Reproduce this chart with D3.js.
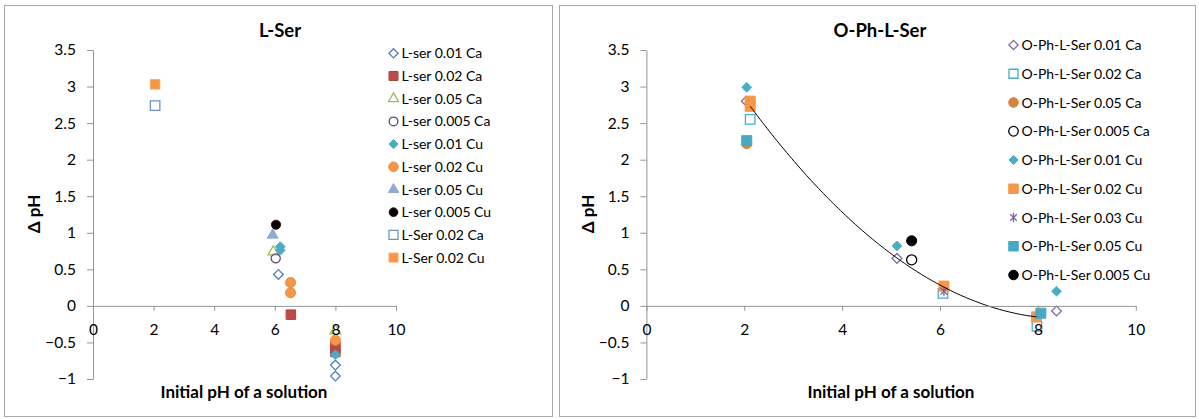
<!DOCTYPE html>
<html>
<head>
<meta charset="utf-8">
<script src="https://cdn.jsdelivr.net/npm/d3@7/dist/d3.min.js"></script>
<style>
  html, body { margin: 0; padding: 0; background: #fff; }
  svg { display: block; font-family: Lato, "Open Sans", sans-serif; }
</style>
</head>
<body>
<svg id="chart" width="1199" height="419"></svg>
<script>
// ---------- DATA ----------
const xTicks = [0, 2, 4, 6, 8, 10];
const yTicks = [-1, -0.5, 0, 0.5, 1, 1.5, 2, 2.5, 3, 3.5];

// Left chart: L-Ser  ([initial pH, delta pH])
const leftTitle = "L-Ser";
const leftNames = ["L-ser 0.01 Ca", "L-ser 0.02 Ca", "L-ser 0.05 Ca", "L-ser 0.005 Ca",
  "L-ser 0.01 Cu", "L-ser 0.02 Cu", "L-ser 0.05 Cu", "L-ser 0.005 Cu", "L-Ser 0.02 Ca", "L-Ser 0.02 Cu"];
const lSer001Ca  = [[6.12, 0.43], [8, -0.81], [8, -0.96]];
const lSer002Ca  = [[6.53, -0.12], [8, -0.56], [8, -0.63]];
const lSer005Ca  = [[5.95, 0.74], [8, -0.34]];
const lSer0005Ca = [[6.03, 0.65]];
const lSer001Cu  = [[6.18, 0.81], [6.18, 0.76], [8, -0.67]];
const lSer002Cu  = [[6.52, 0.32], [6.52, 0.18], [8, -0.47]];
const lSer005Cu  = [[5.93, 0.97]];
const lSer0005Cu = [[6.04, 1.11]];
const lSerB002Ca = [[2.05, 2.74]];
const lSerB002Cu = [[2.05, 3.03]];

// Right chart: O-Ph-L-Ser
const rightTitle = "O-Ph-L-Ser";
const rightNames = ["O-Ph-L-Ser 0.01 Ca", "O-Ph-L-Ser 0.02 Ca", "O-Ph-L-Ser 0.05 Ca", "O-Ph-L-Ser 0.005 Ca",
  "O-Ph-L-Ser 0.01 Cu", "O-Ph-L-Ser 0.02 Cu", "O-Ph-L-Ser 0.03 Cu", "O-Ph-L-Ser 0.05 Cu", "O-Ph-L-Ser 0.005 Cu"];
const oph001Ca  = [[2.04, 2.8], [5.12, 0.65], [8.38, -0.07]];
const oph002Ca  = [[2.12, 2.55], [6.06, 0.17], [7.98, -0.28]];
const oph005Ca  = [[2.05, 2.22]];
const oph0005Ca = [[5.42, 0.63]];
const oph001Cu  = [[2.05, 2.99], [5.12, 0.82], [8.38, 0.2]];
const oph002Cu  = [[2.12, 2.8], [2.12, 2.73], [6.08, 0.27], [7.97, -0.15]];
const oph003Cu  = [[6.08, 0.2]];
const oph005Cu  = [[2.05, 2.26], [8.06, -0.1]];
const oph0005Cu = [[5.42, 0.89]];

// Polynomial (order 2) trendline on right chart: y = c0 + c1*x + c2*x^2
const trendCoef = [4.96, -1.1997, 0.07007];
const trendRange = [2.12, 8.0];

// ---------- STYLES ----------
const asterisk = {
  draw(ctx, size) {
    const r = Math.sqrt(size) * 0.55;
    const d = r * 0.7071;
    ctx.moveTo(0, -r); ctx.lineTo(0, r);
    ctx.moveTo(-d, -d); ctx.lineTo(d, d);
    ctx.moveTo(-d, d); ctx.lineTo(d, -d);
  }
};
const leftStyles = [
  { shape: d3.symbolDiamond2, size: 60, fill: "none", stroke: "#4f81bd" },
  { shape: d3.symbolSquare, size: 90, fill: "#be4b48", stroke: "#b04440" },
  { shape: d3.symbolTriangle, size: 48, fill: "none", stroke: "#9bbb59" },
  { shape: d3.symbolCircle, size: 66, fill: "none", stroke: "#604a7b" },
  { shape: d3.symbolDiamond2, size: 60, fill: "#4bacc6", stroke: "#4bacc6" },
  { shape: d3.symbolCircle, size: 80, fill: "#f79646", stroke: "#f08a3a" },
  { shape: d3.symbolTriangle, size: 52, fill: "#8eabd6", stroke: "#8eabd6" },
  { shape: d3.symbolCircle, size: 66, fill: "#000", stroke: "#3a0a0a" },
  { shape: d3.symbolSquare, size: 90, fill: "none", stroke: "#6d93c8" },
  { shape: d3.symbolSquare, size: 90, fill: "#f79646", stroke: "#f6a868" }
];
const rightStyles = [
  { shape: d3.symbolDiamond2, size: 60, fill: "none", stroke: "#7d68a6" },
  { shape: d3.symbolSquare, size: 90, fill: "none", stroke: "#4bacc6" },
  { shape: d3.symbolCircle, size: 80, fill: "#d4843e", stroke: "#d4843e" },
  { shape: d3.symbolCircle, size: 80, fill: "none", stroke: "#000" },
  { shape: d3.symbolDiamond2, size: 60, fill: "#4bacc6", stroke: "#4bacc6" },
  { shape: d3.symbolSquare, size: 100, fill: "#f79646", stroke: "#f79646" },
  { shape: asterisk, size: 80, fill: "none", stroke: "#8064a2" },
  { shape: d3.symbolSquare, size: 100, fill: "#46a8c4", stroke: "#46a8c4" },
  { shape: d3.symbolCircle, size: 80, fill: "#000", stroke: "#000" }
];

const leftSeries = [lSer001Ca, lSer002Ca, lSer005Ca, lSer0005Ca, lSer001Cu, lSer002Cu, lSer005Cu, lSer0005Cu, lSerB002Ca, lSerB002Cu]
  .map((pts, i) => ({ name: leftNames[i], points: pts, style: leftStyles[i] }));
const rightSeries = [oph001Ca, oph002Ca, oph005Ca, oph0005Ca, oph001Cu, oph002Cu, oph003Cu, oph005Cu, oph0005Cu]
  .map((pts, i) => ({ name: rightNames[i], points: pts, style: rightStyles[i] }));

// ---------- DRAW ----------
const svg = d3.select("#chart");
const axisColor = "#959595";

function panel(cfg) {
  const g = svg.append("g");
  g.append("rect").attr("x", cfg.frame[0] + 0.5).attr("y", cfg.frame[1] + 0.5)
    .attr("width", cfg.frame[2]).attr("height", cfg.frame[3])
    .attr("fill", "#fff").attr("stroke", "#a8a8a8");

  const x = d3.scaleLinear().domain([0, 10]).range(cfg.xRange);
  const y = d3.scaleLinear().domain([-1, 3.5]).range([379, 50]);

  // markers
  cfg.series.forEach(s => {
    const sym = d3.symbol().type(s.style.shape).size(s.style.size);
    g.append("g").selectAll("path").data(s.points).join("path")
      .attr("transform", d => `translate(${x(d[0])},${y(d[1])})`)
      .attr("d", sym)
      .attr("fill", s.style.fill)
      .attr("stroke", s.style.stroke)
      .attr("stroke-width", s.style.fill === "none" ? 1.3 : 1);
  });

  if (cfg.trend) {
    const xs = d3.range(cfg.trend.range[0], cfg.trend.range[1] + 1e-9, 0.05);
    const c = cfg.trend.coef;
    g.append("path")
      .datum(xs.map(v => [v, c[0] + c[1] * v + c[2] * v * v]))
      .attr("d", d3.line().x(d => x(d[0])).y(d => y(d[1])).curve(d3.curveBasis))
      .attr("fill", "none").attr("stroke", "#000").attr("stroke-width", 1);
  }

  const yAxis = g.append("g").attr("transform", `translate(${x(0)},0)`)
    .call(d3.axisLeft(y).tickValues(yTicks).tickSize(6).tickSizeOuter(0).tickPadding(11)
      .tickFormat(d3.format("")));
  const xAxis = g.append("g").attr("transform", `translate(0,${y(0)})`)
    .call(d3.axisBottom(x).tickValues(xTicks).tickSize(5).tickSizeOuter(0).tickPadding(13));
  [xAxis, yAxis].forEach(a => {
    a.select(".domain").attr("stroke", axisColor);
    a.selectAll(".tick line").attr("stroke", axisColor);
    a.selectAll(".tick text").attr("fill", "#000").style("font-size", "15.5px").style("font-family", "Lato");
  });

  // titles
  g.append("text").attr("x", cfg.titleX).attr("y", 37).attr("text-anchor", "middle")
    .style("font-size", "18.5px").style("font-weight", "bold").text(cfg.title);
  g.append("text").attr("x", cfg.xTitleX).attr("y", 398).attr("text-anchor", "middle")
    .style("font-size", "17px").style("font-weight", "bold").text("Initial pH of a solution");
  g.append("text").attr("transform", `translate(${cfg.yTitleX},${214}) rotate(-90)`)
    .attr("text-anchor", "middle").attr("dy", "0.35em")
    .style("font-size", "17px").style("font-weight", "bold").text("Δ pH");

  // legend
  const lg = g.append("g");
  cfg.series.forEach((s, i) => {
    const yy = cfg.legendY + i * cfg.legendStep;
    const sym = d3.symbol().type(s.style.shape).size(s.style.size * 0.9);
    lg.append("path").attr("transform", `translate(${cfg.legendX},${yy})`)
      .attr("d", sym).attr("fill", s.style.fill).attr("stroke", s.style.stroke)
      .attr("stroke-width", s.style.fill === "none" ? 1.3 : 1);
    lg.append("text").attr("x", cfg.legendX + 8).attr("y", yy).attr("dy", "0.36em")
      .style("font-size", "14px").attr("fill", "#000").text(s.name);
  });
}

panel({
  frame: [4, 5, 548, 411], xRange: [93, 396], series: leftSeries, title: leftTitle,
  titleX: 280, xTitleX: 244, yTitleX: 34, legendX: 393.5, legendY: 53.3, legendStep: 22.7
});
panel({
  frame: [559, 5, 636, 411], xRange: [646.4, 1135.8], series: rightSeries, title: rightTitle,
  titleX: 880, xTitleX: 891, yTitleX: 588, legendX: 1013.5, legendY: 45, legendStep: 28.75,
  trend: { coef: trendCoef, range: trendRange }
});
</script>
</body>
</html>
